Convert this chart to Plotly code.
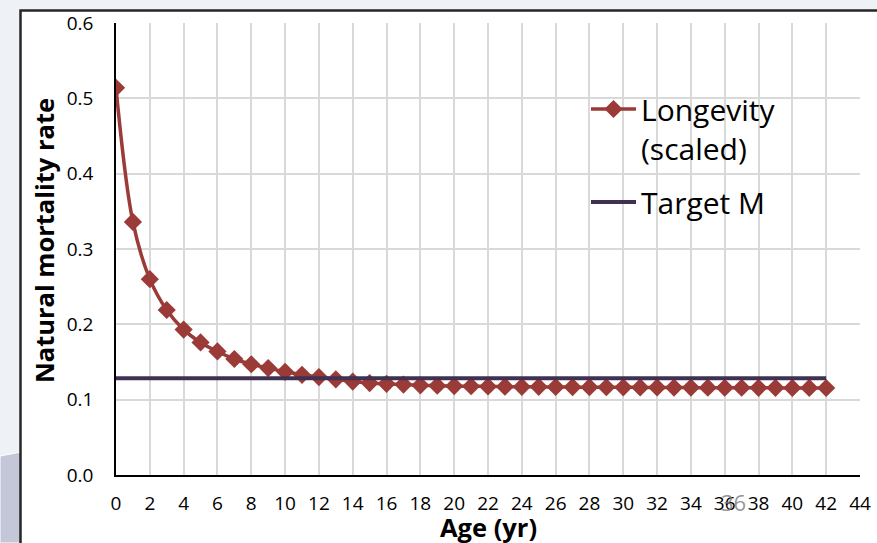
import plotly.graph_objects as go

# Natural mortality by age: longevity-based estimate (scaled) vs. target M
ages = list(range(0, 43))
longevity_scaled = [
    0.514, 0.336, 0.260, 0.219, 0.193, 0.176, 0.164, 0.154, 0.147, 0.142,
    0.137, 0.133, 0.130, 0.127, 0.124, 0.122, 0.121, 0.120, 0.119, 0.1185,
    0.118, 0.1178, 0.1175, 0.1173, 0.1171, 0.117, 0.1168, 0.1167, 0.1166, 0.1165,
    0.1164, 0.1163, 0.1162, 0.1161, 0.116, 0.1159, 0.1158, 0.1158, 0.1157, 0.1157,
    0.1156, 0.1156, 0.1155,
]
target_m = [0.1285] * len(ages)

x_ticks = list(range(0, 46, 2))
y_ticks = [0.0, 0.1, 0.2, 0.3, 0.4, 0.5, 0.6]

W, H = 877, 543
FONT = "Open Sans"


def px(x):
    return x / W


def py(y):
    return 1 - y / H


fig = go.Figure()
fig.add_trace(go.Scatter(
    x=ages, y=longevity_scaled, name="Longevity<br>(scaled)", legendgroup="a",
    mode="lines+markers", line=dict(color="#9b3b38", width=3.5, shape="spline"),
    marker=dict(symbol="diamond", size=14, color="#9b3b38"),
))
fig.add_trace(go.Scatter(
    x=ages, y=target_m, name="Target M", legendgroup="b",
    mode="lines", line=dict(color="#403152", width=4),
))

shapes = [
    # slide decoration in the lower-left corner
    dict(type="path", xref="paper", yref="paper", layer="below",
         path=f"M 0,{py(456)} L {px(21)},{py(452)} L {px(21)},0 L 0,0 Z",
         fillcolor="#c4c7d8", line=dict(color="#ffffff", width=1)),
    # chart frame
    dict(type="rect", xref="paper", yref="paper", layer="below",
         x0=px(20.5), x1=1.05, y0=-0.05, y1=py(10.5),
         fillcolor="#ffffff", line=dict(color="#262626", width=2.5)),
]

annotations = [
    dict(text="<b>Natural mortality rate</b>", xref="paper", yref="paper",
         x=px(44), y=py(241), textangle=-90, showarrow=False,
         font=dict(family=FONT, size=25.5, color="#000000"),
         xanchor="center", yanchor="middle"),
    dict(text="<b>Age (yr)</b>", xref="paper", yref="paper",
         x=px(488), y=py(527), showarrow=False,
         font=dict(family=FONT, size=25.5, color="#000000"),
         xanchor="center", yanchor="middle"),
    dict(text="36", xref="paper", yref="paper", x=px(733), y=py(502),
         showarrow=False, font=dict(family=FONT, size=22, color="rgba(120,120,120,0.8)"),
         xanchor="center", yanchor="middle"),
]

fig.update_layout(
    width=W, height=H,
    margin=dict(l=0, r=0, t=0, b=0, pad=0, autoexpand=False),
    paper_bgcolor="#eef2f6",
    plot_bgcolor="#ffffff",
    font=dict(family=FONT, color="#000000"),
    shapes=shapes,
    annotations=annotations,
    showlegend=True,
    legend=dict(
        x=px(586), y=py(83), xanchor="left", yanchor="top",
        bgcolor="rgba(0,0,0,0)", font=dict(family=FONT, size=30, color="#000000"),
        valign="top", tracegroupgap=12, itemwidth=45,
    ),
    xaxis=dict(
        domain=[px(116), px(860)], range=[0, 44], tickvals=x_ticks,
        showgrid=True, gridcolor="#d9d9d9", gridwidth=1.5,
        showline=True, linecolor="#000000", linewidth=1.5,
        zeroline=False, ticks="", tickfont=dict(family=FONT, size=19),
        ticklabelstandoff=10, automargin=False,
    ),
    yaxis=dict(
        domain=[py(475), py(23)], range=[0, 0.6], tickvals=y_ticks,
        tickformat=".1f",
        showgrid=True, gridcolor="#d9d9d9", gridwidth=1.5,
        showline=True, linecolor="#000000", linewidth=1.5,
        zeroline=False, ticks="", tickfont=dict(family=FONT, size=19),
        ticklabelstandoff=17, automargin=False,
    ),
)

fig.write_html("out.html")
